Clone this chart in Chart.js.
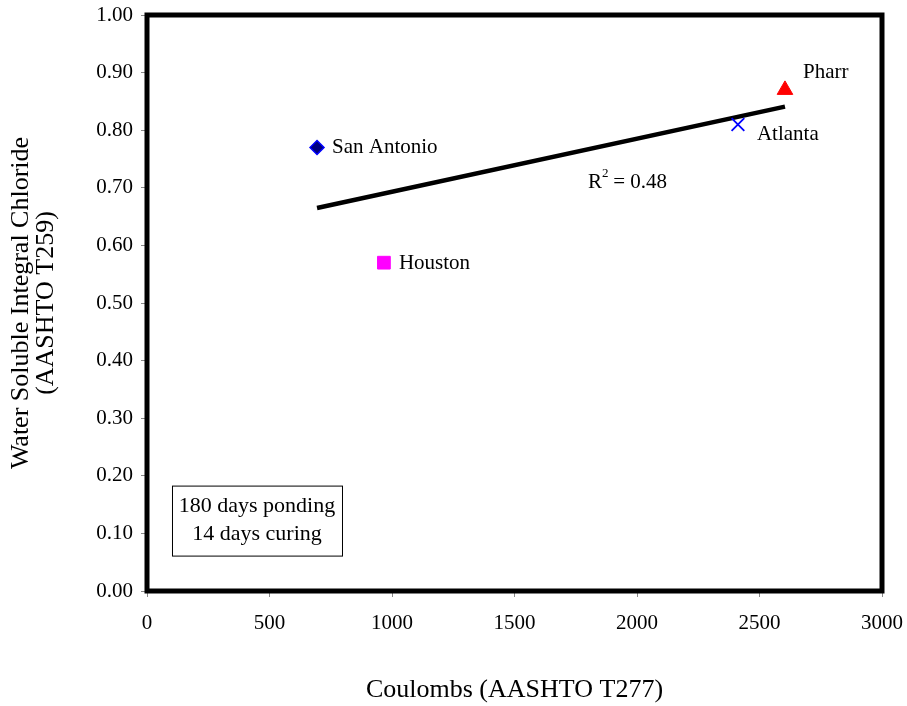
<!DOCTYPE html>
<html><head><meta charset="utf-8">
<script src="https://cdn.jsdelivr.net/npm/chart.js@4"></script>
<style>html,body{margin:0;padding:0;background:#fff}#wrap{width:907px;height:706px}</style>
</head><body><div id="wrap"><canvas id="c" width="907" height="706"></canvas></div>
<script>
const sites = ["San Antonio", "Houston", "Atlanta", "Pharr"];
const coulombs = [694, 967, 2412, 2604];
const chloride = [0.77, 0.57, 0.81, 0.87];
const trendX = [694, 2604];
const trendY = [0.665, 0.841];
const rSquared = "0.48";
const noteLines = ["180 days ponding", "14 days curing"];

const FONT = "'Liberation Serif', 'Times New Roman', serif";
const styles = [
  {pointStyle: 'rectRot', radius: 7, bg: '#000080', bc: '#0000ff', bw: 1.5},
  {pointStyle: 'rect', radius: 9, bg: '#ff00ff', bc: '#ff00ff', bw: 1},
  {pointStyle: 'crossRot', radius: 9, bg: '#0000ff', bc: '#0000ff', bw: 1.8},
  {pointStyle: 'triangle', radius: 9, bg: '#ff0000', bc: '#ff0000', bw: 1}
];
const labelOffsets = [[15, 0], [15, 1], [19, 10], [18, -17]];

const datasets = sites.map((s, i) => ({
  type: 'scatter', label: s,
  data: [{x: coulombs[i], y: chloride[i]}],
  pointStyle: styles[i].pointStyle, pointRadius: styles[i].radius,
  backgroundColor: styles[i].bg, borderColor: styles[i].bc, borderWidth: styles[i].bw
}));
datasets.push({
  type: 'line', label: 'trend',
  data: trendX.map((x, i) => ({x, y: trendY[i]})),
  borderColor: '#000', borderWidth: 4.5, pointRadius: 0, fill: false
});

const deco = {
  id: 'deco',
  afterDatasetsDraw(chart) {
    const {ctx, chartArea: a, scales: {x, y}} = chart;
    ctx.save();
    ctx.strokeStyle = '#000'; ctx.lineWidth = 5;
    ctx.strokeRect(a.left, a.top, a.right - a.left, a.bottom - a.top);
    ctx.fillStyle = '#000';
    ctx.font = '21px ' + FONT;
    ctx.textBaseline = 'middle'; ctx.textAlign = 'left';
    sites.forEach((s, i) => {
      ctx.fillText(s, x.getPixelForValue(coulombs[i]) + labelOffsets[i][0], y.getPixelForValue(chloride[i]) + labelOffsets[i][1]);
    });
    // R^2 label
    const rx = x.getPixelForValue(1800), ry = y.getPixelForValue(0.71);
    ctx.fillText('R', rx, ry);
    const w = ctx.measureText('R').width;
    ctx.font = '13px ' + FONT;
    ctx.fillText('2', rx + w, ry - 8);
    ctx.font = '21px ' + FONT;
    ctx.fillText(' = ' + rSquared, rx + w + 6, ry);
    // note box
    const bx = x.getPixelForValue(102), by = y.getPixelForValue(0.183);
    const bw = 170, bh = 70;
    ctx.lineWidth = 1; ctx.strokeStyle = '#000';
    ctx.strokeRect(bx + 0.5, by + 0.5, bw, bh);
    ctx.textAlign = 'center';
    ctx.font = '22px ' + FONT;
    ctx.fillText(noteLines[0], bx + bw / 2, by + 21);
    ctx.fillText(noteLines[1], bx + bw / 2, by + 49);
    ctx.restore();
  }
};

new Chart(document.getElementById('c'), {
  data: {datasets},
  options: {
    responsive: false, animation: false,
    layout: {padding: {left: 0, top: 15, right: 25, bottom: 0}},
    plugins: {legend: {display: false}, tooltip: {enabled: false}},
    scales: {
      x: {
        type: 'linear', min: 0, max: 3000,
        ticks: {stepSize: 500, color: '#000', font: {family: FONT, size: 21}, padding: 14,
          callback: v => String(v)},
        grid: {drawOnChartArea: false, color: '#888', tickLength: 6},
        border: {display: false},
        title: {display: true, text: 'Coulombs (AASHTO T277)', color: '#000', font: {family: FONT, size: 26}, padding: {top: 34, bottom: 0}},
        afterFit(s) { s.height = 115; s.paddingLeft = 0; s.paddingRight = 0; }
      },
      y: {
        type: 'linear', min: 0, max: 1,
        ticks: {stepSize: 0.1, color: '#000', font: {family: FONT, size: 21}, padding: 8,
          callback: v => v.toFixed(2)},
        grid: {drawOnChartArea: false, color: '#888', tickLength: 6},
        border: {display: false},
        title: {display: true, text: ['Water Soluble Integral Chloride', '(AASHTO T259)'], color: '#000', font: {family: FONT, size: 26, lineHeight: 0.95}, padding: {top: 9, bottom: 4}},
        afterFit(s) { s.width = 147; s.paddingTop = 0; s.paddingBottom = 0; }
      }
    }
  },
  plugins: [deco]
});
</script></body></html>
